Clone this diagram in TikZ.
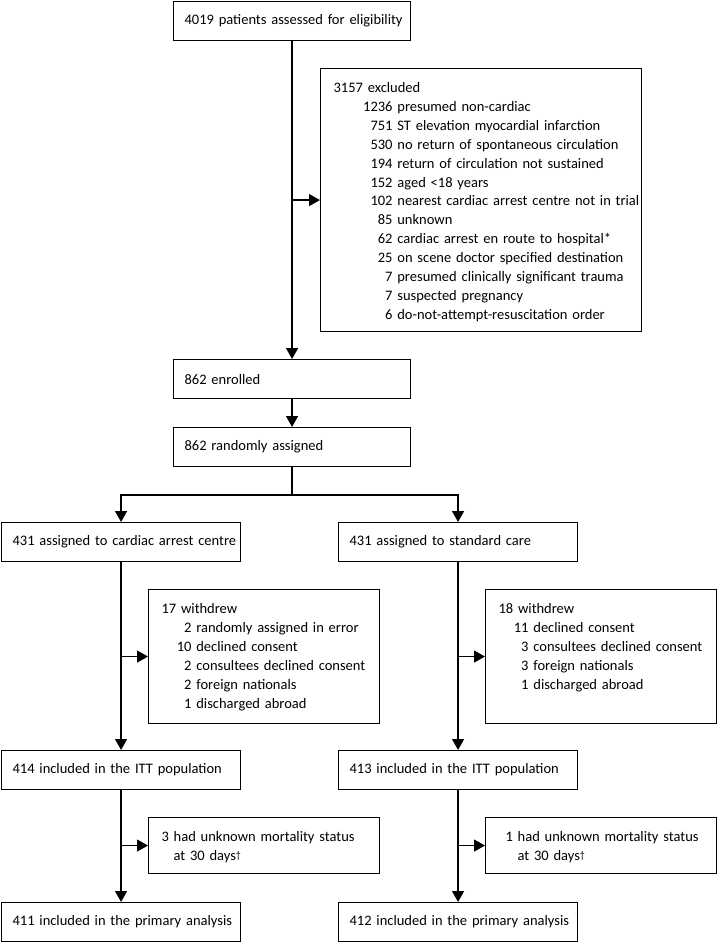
\documentclass[tikz,border=0pt]{standalone}
\usepackage{fontspec}
\setmainfont{Carlito}
\usetikzlibrary{arrows.meta}
\newcommand{\subln}[3]{\mbox{\makebox[#1][r]{#2} #3}}
\newcommand{\dg}{\raisebox{1.5pt}{\fontsize{10}{10}\selectfont †}}
\begin{document}
\begin{tikzpicture}[x=1pt,y=-1pt,font=\fontsize{14.5}{18.9}\selectfont,
  box/.style={draw, line width=1.1pt, anchor=north west, inner xsep=11pt, inner ysep=0pt,
    align=left, text width=#1pt-22pt, minimum height=39pt},
  list/.style={box=#1, inner xsep=13pt, text width=#1pt-26pt, minimum height=0pt, text height=24pt},
  arr/.style={line width=1.3pt, -{Triangle[length=11pt,width=12pt]}}]
  \useasboundingbox (0,0) rectangle (717,942);
  \node[box=237] (elig) at (173,1) {\mbox{4019 patients assessed for eligibility}};
  \node[list=321, text depth=239pt] (excl) at (320,68) {3157 excluded\\
    \subln{59pt}{1236}{presumed non-cardiac}\\
    \subln{59pt}{751}{ST elevation myocardial infarction}\\
    \subln{59pt}{530}{no return of spontaneous circulation}\\
    \subln{59pt}{194}{return of circulation not sustained}\\
    \subln{59pt}{152}{aged <18 years}\\
    \subln{59pt}{102}{nearest cardiac arrest centre not in trial}\\
    \subln{59pt}{85}{unknown}\\
    \subln{59pt}{62}{cardiac arrest en route to hospital*}\\
    \subln{59pt}{25}{on scene doctor specified destination}\\
    \subln{59pt}{7}{presumed clinically significant trauma}\\
    \subln{59pt}{7}{suspected pregnancy}\\
    \subln{59pt}{6}{do-not-attempt-resuscitation order}};
  \node[box=237] (enr) at (173,359) {862 enrolled};
  \node[box=237] (rnd) at (173,427) {862 randomly assigned};
  \node[box=239] (carA) at (1,522) {\mbox{431 assigned to cardiac arrest centre}};
  \node[box=239] (std) at (338,522) {\mbox{431 assigned to standard care}};
  \node[list=231, text depth=110pt] (wdrA) at (148,589) {17 withdrew\\
    \subln{30pt}{2}{randomly assigned in error}\\
    \subln{30pt}{10}{declined consent}\\
    \subln{30pt}{2}{consultees declined consent}\\
    \subln{30pt}{2}{foreign nationals}\\
    \subln{30pt}{1}{discharged abroad}};
  \node[list=231, text depth=110pt] (wdrB) at (485,589) {18 withdrew\\
    \subln{30pt}{11}{declined consent}\\
    \subln{30pt}{3}{consultees declined consent}\\
    \subln{30pt}{3}{foreign nationals}\\
    \subln{30pt}{1}{discharged abroad}};
  \node[box=239] (ittA) at (1,750) {\mbox{414 included in the ITT population}};
  \node[box=239] (ittB) at (338,750) {\mbox{413 included in the ITT population}};
  \node[list=231, text depth=32pt] (morA) at (148,817) {\mbox{3 had unknown mortality status}\\
    \hspace*{12pt}at 30 days\dg};
  \node[list=231, text depth=32pt] (morB) at (485,817) {\mbox{\hspace*{7pt}1 had unknown mortality status}\\
    \hspace*{19pt}at 30 days\dg};
  \node[box=239] (prmA) at (1,902) {\mbox{411 included in the primary analysis}};
  \node[box=239] (prmB) at (338,902) {\mbox{412 included in the primary analysis}};
  \draw[arr] (elig) -- (enr);
  \draw[arr] (elig.south |- excl.west) -- (excl.west);
  \draw[arr] (enr) -- (rnd);
  \draw[arr] (rnd.south) -- ++(0,28) -| (carA.north);
  \draw[arr] (rnd.south) -- ++(0,28) -| (std.north);
  \draw[arr] (carA) -- (ittA);
  \draw[arr] (carA.south |- wdrA.west) -- (wdrA.west);
  \draw[arr] (std) -- (ittB);
  \draw[arr] (std.south |- wdrB.west) -- (wdrB.west);
  \draw[arr] (ittA) -- (prmA);
  \draw[arr] (ittA.south |- morA.west) -- (morA.west);
  \draw[arr] (ittB) -- (prmB);
  \draw[arr] (ittB.south |- morB.west) -- (morB.west);
\end{tikzpicture}
\end{document}
